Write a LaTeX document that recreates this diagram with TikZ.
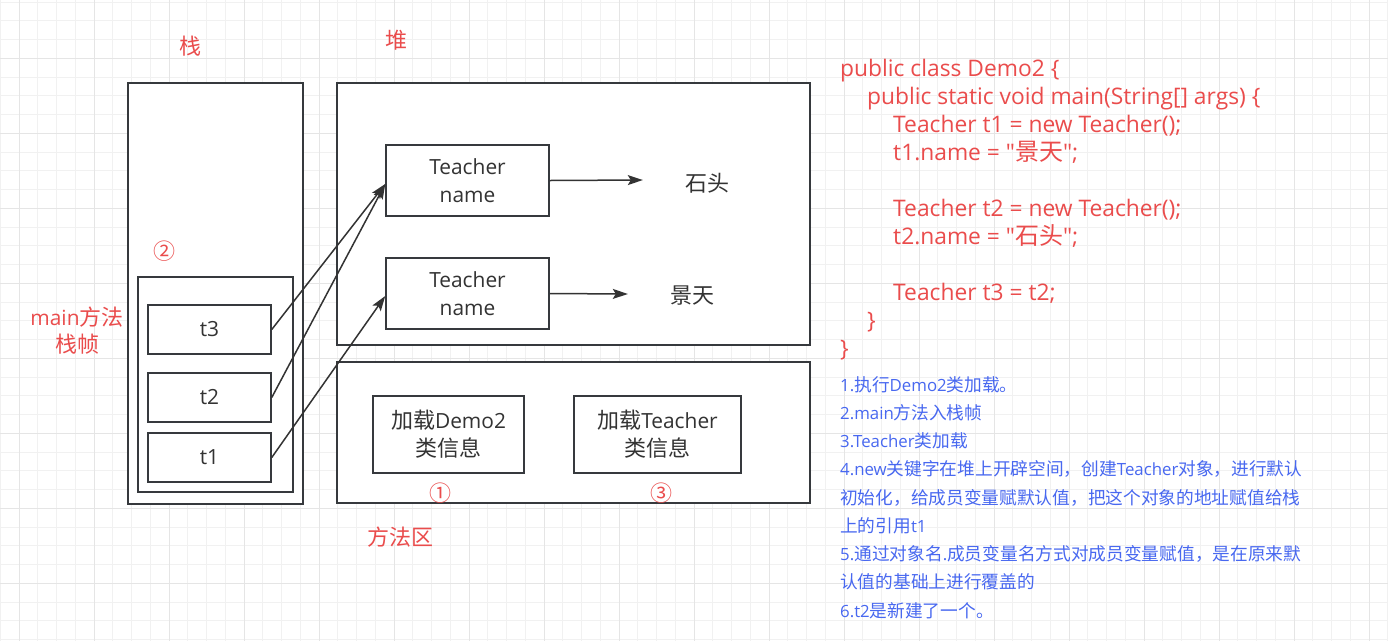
\documentclass[tikz,border=0pt]{standalone}
\usepackage{fontspec}
\usetikzlibrary{arrows.meta}
\setmainfont{Open Sans}[Scale=0.95, Ligatures=TeXOff]
\newfontfamily\cjkfont{Noto Sans CJK SC}[Ligatures=TeXOff]

% CJK characters switch to the CJK font by themselves
\XeTeXinterchartokenstate=1
\newXeTeXintercharclass\cjkclass
\makeatletter
\count@="4E00
\loop\ifnum\count@<"A000
  \XeTeXcharclass\count@=\cjkclass
  \advance\count@ by 1
\repeat
\makeatother
\XeTeXcharclass"3002=\cjkclass
\XeTeXcharclass"FF0C=\cjkclass
\XeTeXcharclass"2460=\cjkclass
\XeTeXcharclass"2461=\cjkclass
\XeTeXcharclass"2462=\cjkclass
\XeTeXinterchartoks 0 \cjkclass={\cjkfont}
\XeTeXinterchartoks 4095 \cjkclass={\cjkfont}
\XeTeXinterchartoks \cjkclass 0={\normalfont}
\XeTeXinterchartoks \cjkclass 4095={\normalfont}

\definecolor{codered}{RGB}{234,76,76}
\definecolor{noteblue}{RGB}{72,104,240}
\definecolor{boxline}{RGB}{54,57,61}
\definecolor{boxtext}{RGB}{51,51,51}
\definecolor{gridminor}{RGB}{241,241,241}
\definecolor{gridmajor}{RGB}{229,229,229}

\begin{document}
\begin{tikzpicture}[x=1pt, y=-1pt,
    region/.style={draw=boxline, line width=1.5pt, fill=white, inner sep=0pt},
    cell/.style={draw=boxline, line width=1.5pt, fill=white, text=boxtext,
      font=\fontsize{22}{28}\selectfont, align=center, inner sep=0pt},
    plain/.style={text=boxtext, font=\fontsize{22}{28}\selectfont, inner sep=0pt},
    redtext/.style={text=codered, font=\fontsize{22}{27}\selectfont, align=center, inner sep=0pt},
    codeline/.style={text=codered, font=\fontsize{24}{28}\selectfont, anchor=base west, inner sep=0pt},
    noteline/.style={text=noteblue, font=\fontsize{17.7}{28}\selectfont, anchor=base west, inner sep=0pt},
    arrowline/.style={draw=boxtext, line width=1.5pt, -{Stealth[length=15pt, width=10pt, inset=3pt]}},
  ]
  \useasboundingbox (0,0) rectangle (1388,641);
  \fill[white] (0,0) rectangle (1388,641);

  % grid
  \foreach \i in {0,...,74}
    \draw[gridminor, line width=1pt] ({0.25+18.75*\i},0) -- ({0.25+18.75*\i},641);
  \foreach \i in {0,...,34}
    \draw[gridminor, line width=1pt] (0,{2.1+18.75*\i}) -- (1388,{2.1+18.75*\i});
  \foreach \i in {0,...,18}
    \draw[gridmajor, line width=1pt] ({19+75*\i},0) -- ({19+75*\i},641);
  \foreach \i in {0,...,7}
    \draw[gridmajor, line width=1pt] (0,{58.3+75*\i}) -- (1388,{58.3+75*\i});

  % stack
  \node[region, minimum width=175pt, minimum height=421pt] (stack) at (215.5,293.5) {};
  \node[region, minimum width=155pt, minimum height=215pt] (frame) at (215.5,384.5) {};
  \node[cell, minimum width=123pt, minimum height=49pt] (t3) at (209.5,329.5) {t3};
  \node[cell, minimum width=123pt, minimum height=49pt] (t2) at (209.5,397.5) {t2};
  \node[cell, minimum width=123pt, minimum height=49pt] (t1) at (209.5,457.5) {t1};

  % heap
  \node[region, minimum width=473pt, minimum height=262pt] (heap) at (573.5,214) {};
  \node[cell, minimum width=163pt, minimum height=71pt] (teacher1) at (467.5,180.5) {Teacher\\name};
  \node[cell, minimum width=163pt, minimum height=71pt] (teacher2) at (467.5,293.5) {Teacher\\name};
  \node[plain] (shitou) at (707,183) {石头};
  \node[plain] (jingtian) at (692,296) {景天};

  % method area
  \node[region, minimum width=473pt, minimum height=141pt] (method) at (573.5,432.5) {};
  \node[cell, minimum width=151pt, minimum height=77pt] (demoinfo) at (448.5,434.5) {加载Demo2\\类信息};
  \node[cell, minimum width=167pt, minimum height=77pt] (teacherinfo) at (657.5,434.5) {加载Teacher\\类信息};

  % red labels
  \node[redtext] (stacklabel) at (190,46) {栈};
  \node[redtext] (heaplabel) at (396,40) {堆};
  \node[redtext] (framelabel) at (77,331) {main方法\\栈帧};
  \node[redtext] (methodlabel) at (400,537) {方法区};
  \node[redtext] (stepone) at (440,493) {①};
  \node[redtext] (steptwo) at (164,251) {②};
  \node[redtext] (stepthree) at (661,493) {③};

  % references
  \draw[arrowline] (t3.east) -- ([yshift=-3.5pt]teacher1.west);
  \draw[arrowline] (t2.east) -- ([yshift=-3.5pt]teacher1.west);
  \draw[arrowline] (t1.east) -- ([yshift=-2.5pt]teacher2.west);
  \draw[arrowline] (teacher1.east) -- ([xshift=-42pt, yshift=3pt]shitou.west);
  \draw[arrowline] (teacher2.east) -- ([xshift=-42pt, yshift=2pt]jingtian.west);

  % source code
  \foreach \y/\x/\txt in {
      76/840/{public class Demo2 \{},
      104/867/{public static void main(String[] args) \{},
      132/893/{Teacher t1 = new Teacher();},
      160/893/{t1.name = "景天";},
      216/893/{Teacher t2 = new Teacher();},
      244/893/{t2.name = "石头";},
      300/893/{Teacher t3 = t2;},
      328/867/{\}},
      356/840/{\}}}
    \node[codeline] (code\y) at (\x,\y) {\txt};

  % notes
  \foreach \txt [count=\i] in {
      1.执行Demo2类加载。,
      2.main方法入栈帧,
      3.Teacher类加载,
      4.new关键字在堆上开辟空间，创建Teacher对象，进行默认,
      初始化，给成员变量赋默认值，把这个对象的地址赋值给栈,
      上的引用t1,
      5.通过对象名.成员变量名方式对成员变量赋值，是在原来默,
      认值的基础上进行覆盖的,
      6.t2是新建了一个。}
    \node[noteline] (note\i) at (840,{391+28.25*(\i-1)}) {\txt};
\end{tikzpicture}
\end{document}
